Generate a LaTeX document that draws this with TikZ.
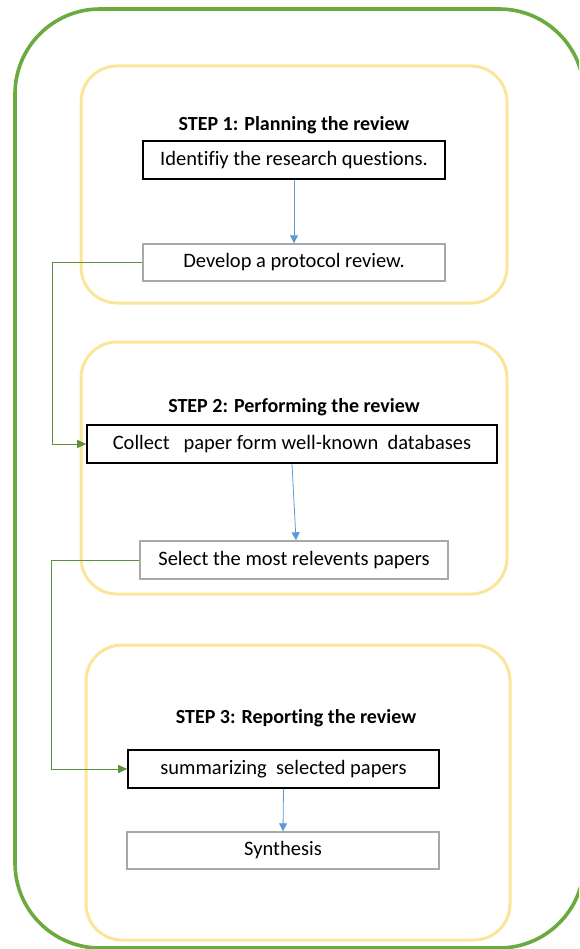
\documentclass[tikz,border=0pt]{standalone}
\usepackage{fontspec}
\setmainfont{Carlito}[Ligatures=NoCommon]
\usetikzlibrary{arrows.meta}
\definecolor{outergreen}{HTML}{6AAA3E}
\definecolor{stepyellow}{HTML}{FBE59A}
\definecolor{linkgreen}{HTML}{5E8F3C}
\definecolor{arrowblue}{HTML}{5B9BD5}
\definecolor{softgray}{HTML}{A8A8A8}
\begin{document}
\begin{tikzpicture}[x=1pt,y=-1pt,
  outerframe/.style={draw=outergreen,line width=3.6pt,rounded corners=85pt},
  stepframe/.style={draw=stepyellow,line width=3pt,rounded corners=36pt},
  steptitle/.style={font=\fontsize{20}{24}\selectfont\bfseries,inner sep=0pt},
  mainbox/.style={draw=black,line width=1.6pt,font=\fontsize{20.5}{24}\selectfont,inner sep=0pt},
  subbox/.style={draw=softgray,line width=1.4pt,font=\fontsize{20.5}{24}\selectfont,inner sep=0pt},
  downarrow/.style={draw=arrowblue,line width=0.8pt,-{Triangle[length=8pt,width=8pt]}},
  linkarrow/.style={draw=linkgreen,line width=0.9pt,-{Triangle[length=9pt,width=8pt]}}]
\useasboundingbox (0,0) rectangle (579,949);
\begin{scope}
\clip (0,0) rectangle (579,949);
\draw[outerframe] (15,9) rectangle (584,948);
\end{scope}
% step frames
\draw[stepframe] (81,66) rectangle (507,303);
\draw[stepframe] (81,342) rectangle (507,594);
\draw[stepframe] (86,645) rectangle (510,940);
% titles
\node[steptitle] (t1) at (294,125) {STEP 1: Planning the review};
\node[steptitle] (t2) at (294,407) {STEP 2: Performing the review};
\node[steptitle] (t3) at (296,718) {STEP 3: Reporting the review};
% boxes
\node[mainbox,minimum width=302pt,minimum height=38pt] (b1) at (294,160) {Identifiy the research questions.};
\node[subbox,minimum width=302pt,minimum height=37pt] (b2) at (294,262.5) {Develop a protocol review.};
\node[mainbox,minimum width=410pt,minimum height=38pt] (b3) at (292,444) {Collect\ \ \ paper form well-known\ \ databases};
\node[subbox,minimum width=308pt,minimum height=38pt] (b4) at (294,560) {Select the most relevents papers};
\node[mainbox,minimum width=311pt,minimum height=38pt] (b5) at (283.5,769) {summarizing\ \ selected papers};
\node[subbox,minimum width=312pt,minimum height=37pt] (b6) at (283,850.5) {Synthesis};
% blue arrows
\draw[downarrow] (b1.south) -- (b2.north);
\draw[downarrow] (b3.south) -- ([xshift=2pt]b4.north);
\draw[downarrow] (b5.south) -- (b6.north);
% green links
\coordinate (c1) at (52,262.5);
\coordinate (c2) at (52,444);
\draw[linkarrow] (b2.west) -- (c1) -- (c2) -- (b3.west);
\coordinate (c3) at (51,560);
\coordinate (c4) at (51,769);
\draw[linkarrow] (b4.west) -- (c3) -- (c4) -- (b5.west);
\end{tikzpicture}
\end{document}
